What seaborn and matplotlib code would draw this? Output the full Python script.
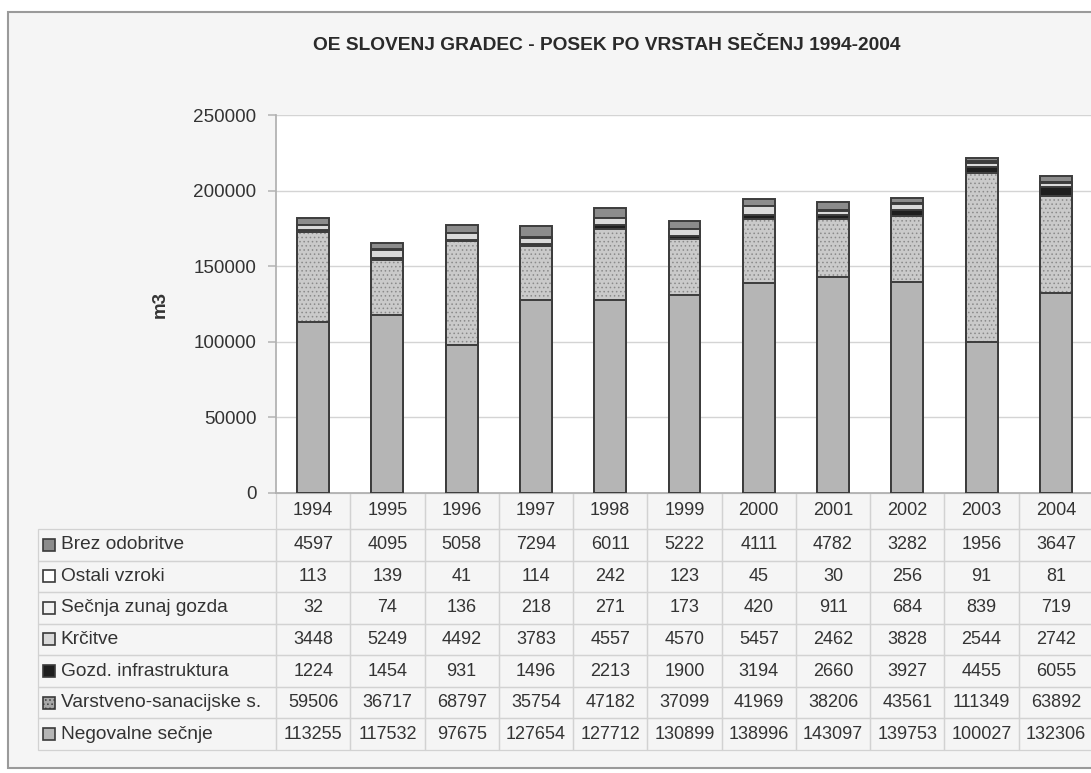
import numpy as np
import pandas as pd
import matplotlib
matplotlib.use("Agg")
import matplotlib.pyplot as plt
import seaborn as sns
from matplotlib.patches import Rectangle

years = ["1994", "1995", "1996", "1997", "1998", "1999", "2000", "2001", "2002", "2003", "2004"]
negovalne = [113255, 117532, 97675, 127654, 127712, 130899, 138996, 143097, 139753, 100027, 132306]
varstveno = [59506, 36717, 68797, 35754, 47182, 37099, 41969, 38206, 43561, 111349, 63892]
gozd_infra = [1224, 1454, 931, 1496, 2213, 1900, 3194, 2660, 3927, 4455, 6055]
krcitve = [3448, 5249, 4492, 3783, 4557, 4570, 5457, 2462, 3828, 2544, 2742]
secnja_zunaj = [32, 74, 136, 218, 271, 173, 420, 911, 684, 839, 719]
ostali = [113, 139, 41, 114, 242, 123, 45, 30, 256, 91, 81]
brez_odobritve = [4597, 4095, 5058, 7294, 6011, 5222, 4111, 4782, 3282, 1956, 3647]

# stacking order bottom -> top
layers = [
    ("Negovalne sečnje", negovalne, "#b5b5b5", None),
    ("Varstveno-sanacijske s.", varstveno, "#cacaca", "...."),
    ("Gozd. infrastruktura", gozd_infra, "#1e1e1e", None),
    ("Krčitve", krcitve, "#dadada", None),
    ("Sečnja zunaj gozda", secnja_zunaj, "#f2f2f2", None),
    ("Ostali vzroki", ostali, "#ffffff", None),
    ("Brez odobritve", brez_odobritve, "#8c8c8c", None),
]

sns.set_theme(style="white")
plt.rcParams["font.family"] = ["Liberation Sans", "DejaVu Sans"]
plt.rcParams["hatch.linewidth"] = 0.6

W, H = 1091, 773
fig = plt.figure(figsize=(W / 100, H / 100), dpi=100)
fig.patch.set_facecolor("white")

# outer chart frame (Excel chart area)
fig.patches.append(Rectangle((8 / W, 1 - 768 / H), 1.2, (768 - 12) / H,
                             transform=fig.transFigure, facecolor="#f5f5f5",
                             edgecolor="#9a9a9a", linewidth=1.5, zorder=-10))

ax_l, ax_r, ax_t, ax_b = 276, 1093, 115, 493
ax = fig.add_axes([ax_l / W, 1 - ax_b / H, (ax_r - ax_l) / W, (ax_b - ax_t) / H])
ax.set_facecolor("white")

edge = "#3c3c3c"
df = pd.DataFrame({"year": years})
cum = np.zeros(len(years))
cums = []
for name, vals, col, hatch in layers:
    cum = cum + np.array(vals)
    cums.append(cum.copy())

# draw from the top of the stack down so each layer covers the one above it
for (name, vals, col, hatch), c in reversed(list(zip(layers, cums))):
    df["v"] = c
    ec = "#8a8a8a" if hatch else edge
    sns.barplot(data=df, x="year", y="v", color=col, saturation=1, width=0.43,
                edgecolor=ec, linewidth=1.4, hatch=hatch, errorbar=None, ax=ax, zorder=3)
    if hatch:
        # outline the hatched segment with the dark edge again
        sns.barplot(data=df, x="year", y="v", color=edge, fill=False, width=0.43,
                    linewidth=1.4, errorbar=None, ax=ax, zorder=3)

ax.set_ylim(0, 250000)
ax.set_xlim(-0.5, len(years) - 0.5)
ax.set_yticks(np.arange(0, 250001, 50000))
ax.set_yticklabels([f"{v:d}" for v in range(0, 250001, 50000)], fontsize=13.6, color="#333333")
ax.yaxis.grid(True, color="#d4d4d4", linewidth=1.0)
ax.set_axisbelow(True)
ax.tick_params(axis="y", length=6, color="#bbbbbb", pad=8, left=True)
ax.tick_params(axis="x", bottom=False, labelbottom=False)
ax.set_xlabel("")
ax.set_ylabel("m3", fontsize=13.5, fontweight="bold", color="#333333", labelpad=18)
for s in ["top", "right"]:
    ax.spines[s].set_visible(False)
ax.spines["left"].set_color("#b0b0b0")
ax.spines["bottom"].set_color("#b0b0b0")

fig.text(607 / W, 1 - 45 / H, "OE SLOVENJ GRADEC - POSEK PO VRSTAH SEČENJ 1994-2004",
         ha="center", va="center", fontsize=13.8, fontweight="bold", color="#2a2a2a")

# data table below the axis (rows listed top -> bottom)
table_rows = list(reversed(layers))
cell_text = [[name] + [str(v) for v in vals] for name, vals, col, hatch in table_rows]
col_labels = [""] + years

tab_l, tab_t, tab_b = 38, 493, 750
axw, axh = ax_r - ax_l, ax_b - ax_t
bbox = [(tab_l - ax_l) / axw, (ax_b - tab_b) / axh,
        (ax_r - tab_l) / axw, (tab_b - tab_t) / axh]
tbl = ax.table(cellText=cell_text, colLabels=col_labels, cellLoc="center",
               bbox=bbox)
tbl.auto_set_font_size(False)
tbl.set_fontsize(13)
col_w = (ax_r - ax_l) / len(years)
for (r, c), cell in tbl.get_celld().items():
    cell.set_edgecolor("#d2d2d2")
    cell.set_linewidth(0.9)
    cell.set_facecolor("none")
    cell.get_text().set_color("#333333")
    cell.set_width(238 if c == 0 else col_w)
    cell.set_height(36 if r == 0 else 31.6)
    if c == 0:
        cell.get_text().set_ha("left")
        cell.get_text().set_fontsize(13.8)
        cell._loc = "left"
        cell.PAD = 0.095
        if r == 0:
            cell.visible_edges = ""

# legend keys in front of the row labels
row_h = (tab_b - 529) / len(table_rows)
for i, (name, vals, col, hatch) in enumerate(table_rows):
    yc = 529 + row_h * (i + 0.5)
    key_col = "#a8a8a8" if hatch else col
    ax.add_patch(Rectangle(((43 - ax_l) / axw, (ax_b - yc - 6) / axh),
                           12 / axw, 12 / axh, transform=ax.transAxes,
                           facecolor=key_col, edgecolor="#3a3a3a", linewidth=1.2,
                           hatch=hatch, clip_on=False, zorder=5))

fig.savefig("out.png", dpi=100, facecolor=fig.get_facecolor())
